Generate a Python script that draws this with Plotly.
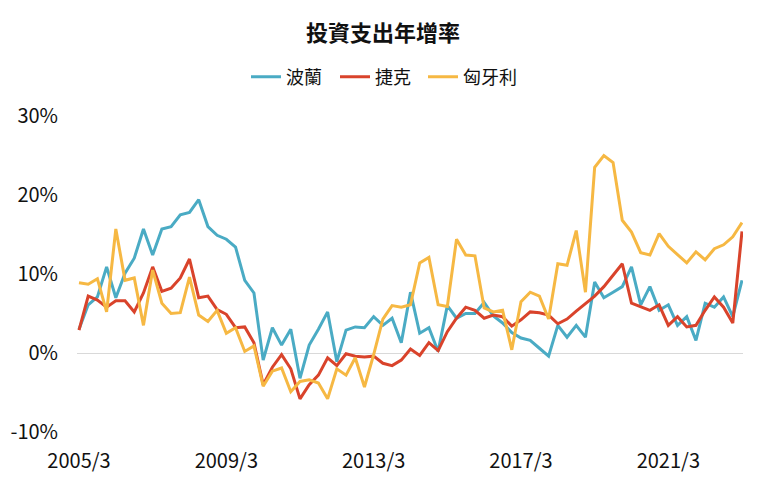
import plotly.graph_objects as go

quarters = [f"{y}/{m}" for y in range(2005, 2024) for m in (3, 6, 9, 12)][:73]

poland = [3.0, 6.1, 7.1, 10.9, 7.0, 10.1, 12.0, 15.7, 12.4, 15.7, 16.0, 17.5, 17.8, 19.4,
          16.0, 14.9, 14.4, 13.4, 9.2, 7.6, -0.9, 3.2, 1.0, 3.0, -3.2, 1.0,
          3.0, 5.2, -1.1, 2.9, 3.3, 3.2, 4.6, 3.5, 4.4, 1.3, 7.7, 2.5, 3.2, 0.2,
          6.0, 4.4, 5.0, 5.0, 6.4, 4.7, 3.8, 2.6, 1.9, 1.6, 0.6, -0.4, 3.5, 2.0, 3.5, 2.0,
          9.0, 7.0, 7.7, 8.4, 10.9, 6.1, 8.4, 5.4, 6.1, 3.5, 4.6, 1.6, 6.3, 5.8, 7.1, 4.6, 9.2]

czech = [2.9, 7.2, 6.7, 5.8, 6.6, 6.6, 5.2, 7.6, 10.9, 7.8, 8.2, 9.5, 11.9,
         7.0, 7.2, 5.5, 4.9, 3.2, 3.3, 1.3, -4.0, -1.8, -0.2, -2.0, -5.8, -4.0, -2.8, -0.6,
         -1.6, -0.1, -0.4, -0.5, -0.4, -1.3, -1.6, -0.9, 0.5, -0.3, 1.3, 0.3,
         2.7, 4.4, 5.8, 5.4, 4.4, 4.8, 4.6, 3.4, 4.2, 5.2, 5.1, 4.8, 3.7, 4.3, 5.3,
         6.2, 7.2, 8.4, 9.9, 11.3, 6.3, 5.8, 5.4, 6.1, 3.5, 4.6, 3.3, 3.5, 5.4, 7.1, 5.8, 3.8, 15.4]

hungary = [8.9, 8.7, 9.4, 5.2, 15.7, 9.2, 9.5, 3.5, 10.5, 6.3, 5.0, 5.1, 9.6, 4.8,
           4.0, 5.4, 2.5, 3.2, 0.2, 0.9, -4.2, -2.3, -1.9, -4.9, -3.6, -3.4, -3.8, -5.8,
           -2.0, -2.8, -0.6, -4.3, -0.2, 4.3, 6.0, 5.8, 6.1, 11.4, 12.1, 6.1, 5.9, 14.4, 12.4, 12.3,
           5.7, 5.2, 5.4, 0.4, 6.5, 7.7, 7.2, 4.3, 11.3, 11.1, 15.5, 7.7, 23.5, 25.0, 24.1,
           16.8, 15.3, 12.7, 12.4, 15.1, 13.5, 12.4, 11.4, 12.8, 11.8, 13.2, 13.7, 14.7, 16.5]

series_names = ["波蘭", "捷克", "匈牙利"]
colors = ["#4aabc4", "#d9432b", "#f6b843"]

y_ticks = [-10, 0, 10, 20, 30]
y_tick_text = [f"{v}%" for v in y_ticks]
x_tick_labels = ["2005/3", "2009/3", "2013/3", "2017/3", "2021/3"]

FONT = "Noto Sans CJK TC, Noto Sans, sans-serif"

# page body has an 8px margin, so the figure is sized to fill the rest of the window
W, H = 752, 473

x_idx = list(range(len(quarters)))
legend_ids = ["legend", "legend2", "legend3"]
legend_x = [238, 327, 415]

fig = go.Figure()
for name, vals, col, lg in zip(series_names, [poland, czech, hungary], colors, legend_ids):
    fig.add_trace(go.Scatter(x=x_idx, y=vals, mode="lines", name=name, legend=lg,
                             line=dict(color=col, width=3), hoverinfo="skip"))

tick_pos = [quarters.index(t) for t in x_tick_labels]

legend_common = dict(orientation="h", xanchor="left", xref="container",
                     y=1 - 69 / H, yanchor="middle", yref="container",
                     font=dict(size=18, family=FONT, color="#111111"),
                     itemwidth=30, bgcolor="rgba(0,0,0,0)")

fig.update_layout(
    width=W, height=H,
    margin=dict(l=69, r=17, t=108, b=49, autoexpand=False),
    paper_bgcolor="white", plot_bgcolor="white",
    font=dict(family=FONT, color="#111111"),
    title=dict(text="<b>投資支出年增率</b>", x=375 / W, xanchor="center",
               xref="container",
               y=1 - 25 / H, yanchor="middle", yref="container",
               font=dict(size=22, family=FONT, color="#111111")),
    legend=dict(x=legend_x[0] / W, **legend_common),
    legend2=dict(x=legend_x[1] / W, **legend_common),
    legend3=dict(x=legend_x[2] / W, **legend_common),
    showlegend=True,
)
fig.update_xaxes(range=[-0.217, 72.11], tickmode="array", tickvals=tick_pos,
                 ticktext=x_tick_labels, showgrid=False, zeroline=False,
                 showline=False, ticks="", ticklabelstandoff=15, automargin=False,
                 tickfont=dict(size=20, family=FONT, color="#111111"))
fig.update_yaxes(range=[-10, 30], tickmode="array", tickvals=y_ticks,
                 ticktext=y_tick_text, showgrid=False, zeroline=True,
                 zerolinecolor="#d9d9d9", zerolinewidth=1, showline=False,
                 ticks="", ticklabelstandoff=18, automargin=False,
                 tickfont=dict(size=20, family=FONT, color="#111111"))

fig.write_html("out.html")
